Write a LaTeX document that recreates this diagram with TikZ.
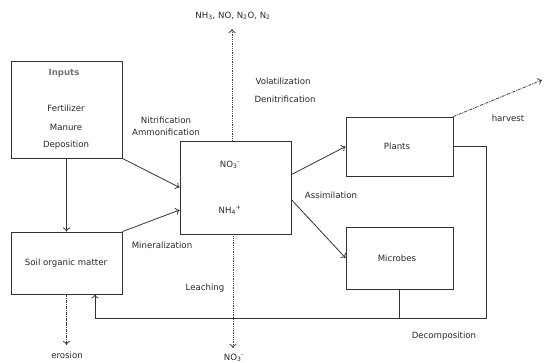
\documentclass[tikz,border=0pt]{standalone}
\usepackage{fontspec}
\setmainfont{DejaVu Sans}
\usepackage{tikz}
\usetikzlibrary{arrows.meta}

\tikzset{
  >={To[length=4pt,width=7pt]},
  box/.style={draw=black!80, line width=0.8pt, rectangle, inner sep=0pt},
  lbl/.style={text=black!85, font=\fontsize{8.6}{10}\selectfont, inner sep=1pt},
  flow/.style={draw=black!80, line width=0.8pt, ->},
  loss/.style={draw=black!75, line width=0.8pt, densely dotted, ->},
  export/.style={draw=black!75, line width=0.8pt, densely dash dot, ->}
}

\begin{document}
\begin{tikzpicture}[x=1pt, y=-1pt]
  \useasboundingbox (0,0) rectangle (546,363);

  % boxes
  \node[box, minimum width=111pt, minimum height=97pt] (inputs) at (66.5,109.5) {};
  \node[box, minimum width=111pt, minimum height=62pt] (soil) at (66.5,263) {};
  \node[box, minimum width=111pt, minimum height=93pt] (pool) at (235.5,187.5) {};
  \node[box, minimum width=107pt, minimum height=59pt] (plants) at (399.5,146.5) {};
  \node[box, minimum width=107pt, minimum height=62pt] (microbes) at (399.5,258) {};

  % box texts
  \node[lbl, text=black!55, font=\fontsize{8.6}{10}\selectfont\bfseries] (inputsl) at (64,73) {Inputs};
  \node[lbl] (fert) at (66,108) {Fertilizer};
  \node[lbl] (manure) at (66,127) {Manure};
  \node[lbl] (depo) at (66,145) {Deposition};
  \node[lbl] (soill) at (66,263) {Soil organic matter};
  \node[lbl] (no3) at (230,165) {NO\textsubscript{3}\textsuperscript{-}};
  \node[lbl] (nh4) at (230,210) {NH\textsubscript{4}\textsuperscript{+}};
  \node[lbl] (plantsl) at (397,146) {Plants};
  \node[lbl] (microbesl) at (397,258) {Microbes};

  % process labels
  \node[lbl] (nitr) at (166,120) {Nitrification};
  \node[lbl] (ammo) at (166,132) {Ammonification};
  \node[lbl] (vola) at (283,81) {Volatilization};
  \node[lbl] (deni) at (285,99) {Denitrification};
  \node[lbl] (assi) at (331,195) {Assimilation};
  \node[lbl] (mine) at (162,245) {Mineralization};
  \node[lbl] (leach) at (205,288) {Leaching};
  \node[lbl] (deco) at (444,336) {Decomposition};
  \node[lbl] (harvl) at (508,118) {harvest};
  \node[lbl] (gasl) at (233,16) {NH\textsubscript{3}, NO, N\textsubscript{2}O, N\textsubscript{2}};
  \node[lbl] (leachl) at (234,358) {NO\textsubscript{3}\textsuperscript{-}};
  \node[lbl] (erol) at (67,355) {erosion};

  % end points
  \coordinate (gas) at (232,29);
  \coordinate (drain) at (233,348);
  \coordinate (ero) at (66.5,345);
  \coordinate (harv) at (542,80);
  \coordinate (fbr) at (486,318);
  \coordinate (fbl) at (95,318);

  % flows
  \draw[flow] (inputs.south) -- (soil.north);
  \draw[flow] (inputs.south east) -- (pool.west);
  \draw[flow] (soil.north east) -- ([yshift=-22.5pt]pool.west);
  \draw[flow] ([yshift=-34pt]pool.north east) -- (plants.west);
  \draw[flow] ([yshift=-59pt]pool.north east) -- (microbes.west);
  \draw[flow] (plants.east) -| (fbr) -- (fbl) -- (fbl |- soil.south);
  \draw[draw=black!80, line width=0.8pt] (microbes.south) -- (microbes.south |- fbr);

  % losses
  \draw[loss] (gas |- pool.north) -- (gas);
  \draw[loss] (drain |- pool.south) -- (drain);
  \draw[export] (soil.south) -- (ero);
  \draw[export] (plants.north east) -- (harv);
\end{tikzpicture}
\end{document}
